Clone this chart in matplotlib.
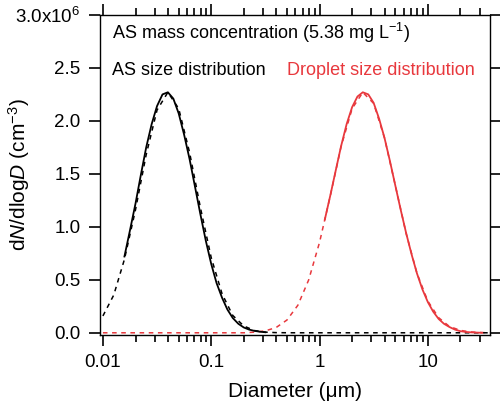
import numpy as np
import matplotlib
matplotlib.use("Agg")
import matplotlib.pyplot as plt
from matplotlib.ticker import FixedLocator, FixedFormatter, LogLocator, NullFormatter

plt.rcParams['font.family'] = ['Liberation Sans', 'DejaVu Sans']
plt.rcParams['mathtext.fontset'] = 'custom'
plt.rcParams['mathtext.rm'] = 'Liberation Sans'
plt.rcParams['mathtext.it'] = 'Liberation Sans:italic'

# diameters (um) for the lognormal fits
fit_d = [0.010, 0.0126, 0.0158, 0.0200, 0.0251, 0.0316, 0.0398, 0.0501, 0.0631, 0.0794,
         0.100, 0.126, 0.158, 0.200, 0.251, 0.316, 0.398, 0.501, 0.631, 0.794,
         1.00, 1.26, 1.58, 2.00, 2.51, 3.16, 3.98, 5.01, 6.31, 7.94,
         10.0, 12.6, 15.8, 20.0, 25.1, 31.6, 37.0]
# dN/dlogD in units of 1e6 cm^-3
as_fit = [0.159, 0.357, 0.693, 1.162, 1.682, 2.102, 2.270, 2.116, 1.702, 1.183,
          0.709, 0.367, 0.164, 0.064, 0.021, 0.006, 0.0015, 0.0003, 0.0, 0.0,
          0.0, 0.0, 0.0, 0.0, 0.0, 0.0, 0.0, 0.0, 0.0, 0.0,
          0.0, 0.0, 0.0, 0.0, 0.0, 0.0, 0.0]
drop_fit = [0.0, 0.0, 0.0, 0.0, 0.0, 0.0, 0.0, 0.0, 0.0, 0.0,
            0.0, 0.0, 0.0, 0.0, 0.006, 0.018, 0.050, 0.121, 0.260, 0.499,
            0.853, 1.297, 1.756, 2.116, 2.269, 2.165, 1.839, 1.391, 0.936, 0.561,
            0.299, 0.142, 0.060, 0.0225, 0.0075, 0.002, 0.0]

# measured AS size distribution
as_d = [0.0158, 0.0178, 0.0200, 0.0224, 0.0251, 0.0282, 0.0316, 0.0355, 0.0398, 0.0447,
        0.0501, 0.0562, 0.0631, 0.0708, 0.0794, 0.0891, 0.100, 0.112, 0.126, 0.141,
        0.158, 0.178, 0.200, 0.224, 0.251, 0.282, 0.316]
as_n = [0.72, 0.97, 1.22, 1.49, 1.75, 1.97, 2.14, 2.25, 2.27, 2.21,
        2.07, 1.87, 1.64, 1.38, 1.12, 0.87, 0.65, 0.47, 0.33, 0.22,
        0.14, 0.085, 0.050, 0.030, 0.018, 0.010, 0.005]

# measured droplet size distribution
drop_d = [1.12, 1.26, 1.41, 1.58, 1.78, 2.00, 2.24, 2.51, 2.82, 3.16,
          3.55, 3.98, 4.47, 5.01, 5.62, 6.31, 7.08, 7.94, 8.91, 10.0,
          11.2, 12.6, 14.1, 15.8, 17.8, 20.0, 22.4, 25.1, 28.2, 31.6]
drop_n = [1.07, 1.30, 1.53, 1.76, 1.97, 2.13, 2.23, 2.27, 2.25, 2.17,
          2.02, 1.84, 1.62, 1.39, 1.16, 0.94, 0.74, 0.56, 0.41, 0.29,
          0.20, 0.13, 0.085, 0.055, 0.030, 0.015, 0.008, 0.004, 0.002, 0.0]

red = '#e8383d'

fig = plt.figure(figsize=(5, 4.15), dpi=100)
ax = fig.add_axes([0.2, 0.193, 0.78, 0.771])

ax.plot(fit_d, drop_fit, color=red, lw=1.1, ls=(0, (3, 3)))
ax.plot(fit_d, as_fit, color='black', lw=1.1, ls=(0, (3, 3)))
ax.plot(as_d, as_n, color='black', lw=1.3)
ax.plot(drop_d, drop_n, color=red, lw=1.3)

ax.set_xscale('log')
ax.set_xlim(0.0094, 37.5)
ax.set_ylim(-0.02, 3.0)

ax.xaxis.set_major_locator(FixedLocator([0.01, 0.1, 1, 10]))
ax.xaxis.set_major_formatter(FixedFormatter(['0.01', '0.1', '1', '10']))
ax.xaxis.set_minor_locator(LogLocator(base=10, subs=np.arange(2, 10), numticks=20))
ax.xaxis.set_minor_formatter(NullFormatter())

yt = [0, 0.5, 1.0, 1.5, 2.0, 2.5, 3.0]
ax.yaxis.set_major_locator(FixedLocator(yt))
ax.yaxis.set_major_formatter(FixedFormatter(['0.0', '0.5', '1.0', '1.5', '2.0', '2.5', '3.0x10$^{6}$']))

ax.tick_params(which='both', direction='out', top=True, right=True, labelsize=13.5, width=1.2)
ax.tick_params(which='major', length=8, pad=6)
ax.tick_params(which='minor', length=5)
for s in ax.spines.values():
    s.set_linewidth(1.0)

ax.set_xlabel('Diameter (μm)', fontsize=15, labelpad=8)
ax.set_ylabel('d$N$/dlog$D$ (cm$^{-3}$)', fontsize=15)
ax.yaxis.set_label_coords(-0.175, 0.5)

ax.text(0.03, 0.945, 'AS mass concentration (5.38 mg L$^{-1}$)', transform=ax.transAxes,
        fontsize=13, va='center')
ax.text(0.03, 0.825, 'AS size distribution', transform=ax.transAxes, fontsize=13, va='center')
ax.text(0.48, 0.825, 'Droplet size distribution', transform=ax.transAxes, fontsize=13,
        va='center', color=red)

fig.savefig('out.png', dpi=100)
